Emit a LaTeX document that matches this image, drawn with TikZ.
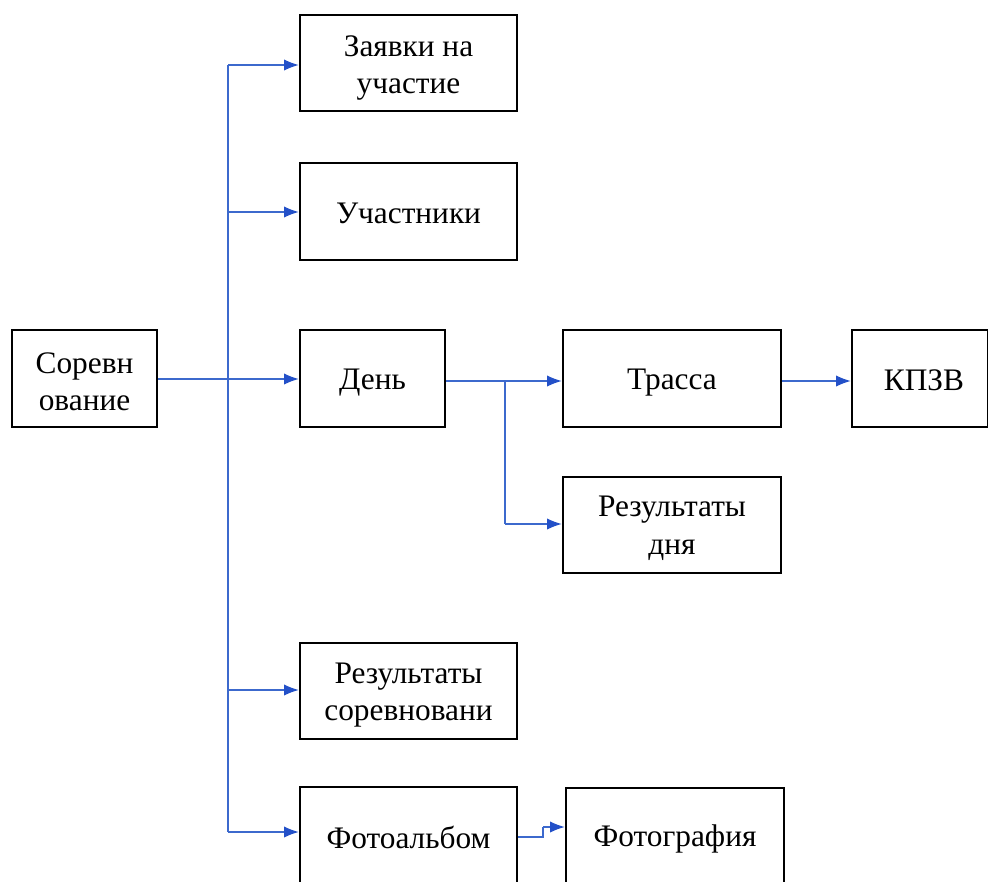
\documentclass[tikz,border=0pt]{standalone}
\usepackage{fontspec}
\setmainfont{Liberation Serif}
\usetikzlibrary{arrows.meta}
\definecolor{lineblue}{RGB}{60,105,205}
\definecolor{tipblue}{RGB}{35,80,200}
\tikzset{
  box/.style={draw=black, line width=2pt, fill=white, inner sep=0pt},
  txt/.style={align=center, font=\fontsize{23.5}{28}\selectfont, inner sep=0pt},
  conn/.style={draw=lineblue, line width=0.8pt},
  arr/.style={draw=lineblue, line width=0.8pt, -{Latex[length=11pt,width=8.5pt,color=tipblue]}}
}
\begin{document}
\begin{tikzpicture}[x=0.75pt,y=-0.75pt]
\useasboundingbox (0,0) rectangle (988,881);
\clip (0,0) rectangle (988,881);
\fill[white] (0,0) rectangle (988,881);
% boxes
\node[box, minimum width=145*0.75pt, minimum height=97*0.75pt] (sor) at (84.5,378.5) {};
\node[box, minimum width=217*0.75pt, minimum height=96*0.75pt] (zay) at (408.5,63) {};
\node[box, minimum width=217*0.75pt, minimum height=97*0.75pt] (uch) at (408.5,211.5) {};
\node[box, minimum width=145*0.75pt, minimum height=97*0.75pt] (den) at (372.5,378.5) {};
\node[box, minimum width=218*0.75pt, minimum height=97*0.75pt] (tra) at (672,378.5) {};
\node[box, minimum width=136*0.75pt, minimum height=97*0.75pt] (kpzv) at (920,378.5) {};
\node[box, minimum width=218*0.75pt, minimum height=96*0.75pt] (rd) at (672,525) {};
\node[box, minimum width=217*0.75pt, minimum height=96*0.75pt] (rs) at (408.5,691) {};
\node[box, minimum width=217*0.75pt, minimum height=97*0.75pt] (foto) at (408.5,835.5) {};
\node[box, minimum width=218*0.75pt, minimum height=97*0.75pt] (fotog) at (675,836.5) {};
% texts
\node[txt] (sorT) at ([yshift=-2.5pt]sor.center) {Соревн\\ование};
\node[txt] (zayT) at ([yshift=-3.5pt]zay.center) {Заявки на\\участие};
\node[txt] (uchT) at ([yshift=-1.5pt]uch.center) {Участники};
\node[txt] (denT) at ([yshift=-3pt]den.center) {День};
\node[txt] (traT) at ([yshift=-3pt]tra.center) {Трасса};
\node[txt] (kpzvT) at ([xshift=3pt,yshift=-1.5pt]kpzv.center) {КПЗВ};
\node[txt] (rdT) at ([yshift=-2.5pt]rd.center) {Результаты\\дня};
\node[txt] (rsT) at ([yshift=-3pt]rs.center) {Результаты\\соревновани};
\node[txt] (fotoT) at ([yshift=-1.5pt]foto.center) {Фотоальбом};
\node[txt] (fotogT) at ([yshift=-1.5pt]fotog.center) {Фотография};
% trunk
\coordinate (t1) at (228,65);
\coordinate (t2) at (228,212);
\coordinate (t3) at (228,379);
\coordinate (t4) at (228,690);
\coordinate (t5) at (228,832);
\draw[conn] (t1) -- (t5);
\draw[draw=lineblue, line width=1.8pt] (sor.east |- t3) -- (t3);
\draw[arr] (t1) -- (t1 -| zay.west);
\draw[arr] (t2) -- (t2 -| uch.west);
\draw[arr] (t3) -- (t3 -| den.west);
\draw[arr] (t4) -- (t4 -| rs.west);
\draw[arr] (t5) -- (t5 -| foto.west);
% day branch
\coordinate (d1) at (505,381);
\coordinate (d2) at (505,524);
\draw[conn] (den.east |- d1) -- (d1) -- (d2);
\draw[arr] (d1) -- (d1 -| tra.west);
\draw[arr] (d2) -- (d2 -| rd.west);
% track to KPZV
\coordinate (k1) at (781,381);
\draw[arr] (tra.east |- k1) -- (k1 -| kpzv.west);
% photo album
\coordinate (f1) at (543,837);
\coordinate (f2) at (543,827);
\draw[conn] (foto.east |- f1) -- (f1) -- (f2);
\draw[arr] (f2) -- (f2 -| fotog.west);
\end{tikzpicture}
\end{document}
